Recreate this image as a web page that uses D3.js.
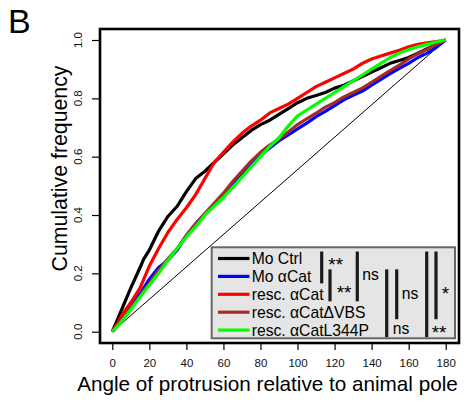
<!DOCTYPE html>
<html><head><meta charset="utf-8">
<script src="https://cdn.jsdelivr.net/npm/d3@7"></script>
<style>body{margin:0;background:#fff}svg{display:block;font-family:"Liberation Sans",Arial,sans-serif}</style>
</head><body><svg id="c" width="473" height="403"></svg>
<script>
const angles   = [0,3,5,10,15,17,20,25,30,35,40,45,50,55,60,65,70,75,80,85,90,95,100,105,110,115,120,125,130,135,140,145,150,155,160,165,170,175,180];
const moCtrl   = [0,0.045,0.075,0.15,0.22,0.25,0.28,0.345,0.395,0.43,0.48,0.525,0.55,0.58,0.61,0.64,0.665,0.69,0.71,0.725,0.745,0.765,0.785,0.80,0.81,0.82,0.835,0.845,0.86,0.875,0.89,0.905,0.92,0.93,0.94,0.955,0.97,0.985,1];
const moCat    = [0,0.025,0.04,0.085,0.13,0.15,0.18,0.22,0.245,0.28,0.33,0.37,0.405,0.435,0.47,0.505,0.54,0.57,0.605,0.63,0.655,0.675,0.695,0.715,0.737,0.755,0.775,0.795,0.81,0.825,0.845,0.865,0.885,0.903,0.92,0.94,0.955,0.975,1];
const rescCat  = [0,0.03,0.055,0.10,0.15,0.18,0.225,0.285,0.34,0.385,0.425,0.47,0.525,0.58,0.615,0.65,0.68,0.705,0.725,0.75,0.765,0.78,0.80,0.82,0.84,0.855,0.87,0.885,0.90,0.92,0.935,0.945,0.955,0.965,0.977,0.985,0.99,0.995,1];
const rescVBS  = [0,0.025,0.04,0.08,0.12,0.14,0.165,0.21,0.25,0.285,0.33,0.37,0.405,0.44,0.475,0.515,0.55,0.585,0.615,0.64,0.66,0.685,0.71,0.73,0.749,0.77,0.785,0.805,0.82,0.835,0.855,0.875,0.895,0.914,0.935,0.953,0.968,0.985,1];
const rescL344P= [0,0.02,0.035,0.075,0.12,0.135,0.16,0.20,0.245,0.285,0.325,0.36,0.40,0.43,0.46,0.495,0.53,0.565,0.60,0.635,0.665,0.705,0.74,0.76,0.78,0.80,0.82,0.84,0.86,0.88,0.90,0.92,0.94,0.955,0.967,0.977,0.985,0.993,1];
const seriesNames  = ["Mo Ctrl","Mo \u03b1Cat","resc. \u03b1Cat","resc. \u03b1Cat\u0394VBS","resc. \u03b1CatL344P"];
const seriesColors = ["#000000","#0000ff","#ff0000","#a52a2a","#00ff00"];
const xTicks = [0,20,40,60,80,100,120,140,160,180];
const yTicks = [0,0.2,0.4,0.6,0.8,1.0];
// significance brackets: [fromRow, toRow, label]
const sigRows = [[0,1,"**"],[1,2,"**"],[0,2,"ns"],[1,4,"ns"],[1,3,"ns"],[0,4,"**"],[0,3,"*"]];

const svg = d3.select("#c");
const x = d3.scaleLinear().domain([0,180]).range([112.3,445.7]);
const y = d3.scaleLinear().domain([0,1]).range([331.7,40]);

// panel letter
svg.append("text").attr("x",8).attr("y",33).attr("font-size",34).text("B");

// diagonal
svg.append("line").attr("x1",x(0)).attr("y1",y(0)).attr("x2",x(180)).attr("y2",y(1))
  .attr("stroke","#000").attr("stroke-width",1);

// curves
const allSeries = [moCtrl, moCat, rescCat, rescVBS, rescL344P];
const line = d3.line().x((d,i)=>x(angles[i])).y(d=>y(d));
allSeries.forEach((s,k)=>{
  svg.append("path").datum(s).attr("d",line).attr("fill","none")
    .attr("stroke",seriesColors[k]).attr("stroke-width",3.2).attr("stroke-linejoin","round");
});

// box
svg.append("rect").attr("x",100).attr("y",29).attr("width",359).attr("height",314)
  .attr("fill","none").attr("stroke","#000").attr("stroke-width",2.6);

// x axis
const gx = svg.append("g").attr("transform","translate(0,343)")
  .call(d3.axisBottom(x).tickValues(xTicks).tickSize(7).tickPadding(9).tickFormat(d3.format("d")));
gx.select(".domain").remove();
gx.selectAll("line").attr("stroke","#000").attr("stroke-width",1.2);
gx.selectAll("text").attr("font-size",11.5).attr("fill","#111").attr("font-family","Liberation Sans, Arial, sans-serif");

// y axis
const gy = svg.append("g").attr("transform","translate(99,0)")
  .call(d3.axisLeft(y).tickValues(yTicks).tickSize(7).tickFormat(""));
gy.select(".domain").remove();
gy.selectAll("line").attr("stroke","#000").attr("stroke-width",1.2);
svg.selectAll(".ylab").data(yTicks).enter().append("text")
  .attr("transform",d=>`translate(81.5,${y(d)}) rotate(-90)`)
  .attr("text-anchor","middle").attr("font-size",11.5).attr("fill","#111")
  .text(d=>d3.format(".1f")(d));

// axis titles
svg.append("text").attr("transform","translate(66.5,168.5) rotate(-90)")
  .attr("text-anchor","middle").attr("font-size",21.3).text("Cumulative frequency");
svg.append("text").attr("x",267.5).attr("y",391).attr("text-anchor","middle")
  .attr("font-size",20.7).text("Angle of protrusion relative to animal pole");

// legend
const lg = svg.append("g");
lg.append("rect").attr("x",211.7).attr("y",247.3).attr("width",243.3).attr("height",91)
  .attr("fill","#e5e5e5").attr("stroke","#666").attr("stroke-width",2);
const rowY = i => 258.5 + i*17.9;
seriesNames.forEach((n,i)=>{
  lg.append("line").attr("x1",218).attr("x2",249.5).attr("y1",rowY(i)).attr("y2",rowY(i))
    .attr("stroke",seriesColors[i]).attr("stroke-width",3.2);
  lg.append("text").attr("x",251.7).attr("y",rowY(i)+5.6).attr("font-size",15.7).text(n);
});
// significance bars
const barX = [321.7,330,357.3,386.7,396.7,426.7,436];
const labX = [328.3,336.7,362.3,392.7,401.7,431.7,441.7];
const labY = [271,299,280,333.5,298.5,339,300];
sigRows.forEach((r,i)=>{
  const y0 = rowY(r[0]) - 7, y1 = rowY(r[1]) + 7;
  lg.append("line").attr("x1",barX[i]).attr("x2",barX[i]).attr("y1",y0).attr("y2",y1)
    .attr("stroke","#1a1a1a").attr("stroke-width",3.2);
  lg.append("text").attr("x",labX[i]).attr("y",labY[i])
    .attr("font-size",r[2]==="ns"?15.7:19).text(r[2]);
});
</script></body></html>
